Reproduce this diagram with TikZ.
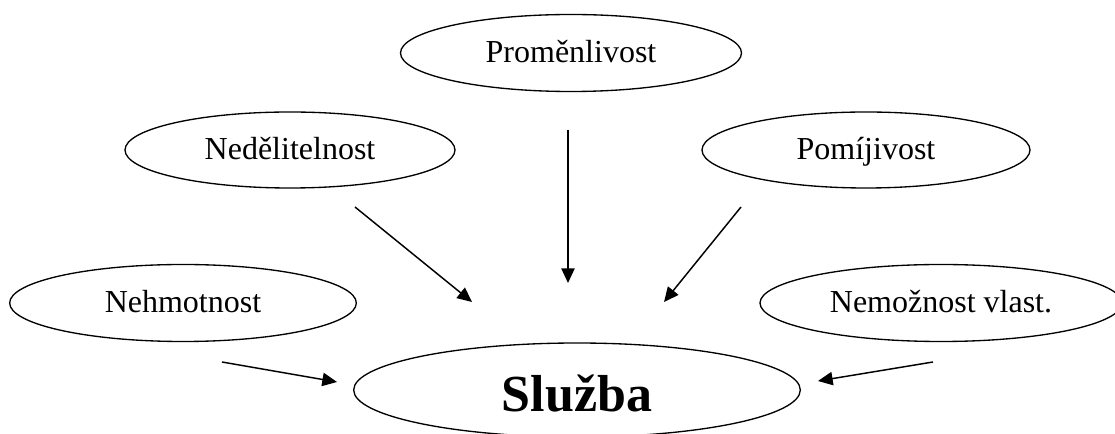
\documentclass[tikz,border=0pt]{standalone}
\usepackage{fontspec}
\setmainfont{Liberation Serif}
\usetikzlibrary{shapes.geometric,arrows.meta}
\tikzset{
  oval/.style={draw, ellipse, line width=1pt, inner sep=0pt, text height=18pt, text depth=3pt, font=\fontsize{24}{28}\selectfont},
  arr/.style={line width=1.1pt, -{Triangle[length=11pt,width=10pt]}}
}
\begin{document}
\begin{tikzpicture}[x=0.75pt,y=-0.75pt]
\clip (0,0) rectangle (1115,434);
\fill[white] (0,0) rectangle (1115,434);
\node[oval, minimum width=255.75pt, minimum height=57.75pt] (prom) at (571,53) {Proměnlivost};
\node[oval, minimum width=247.5pt, minimum height=57pt] (ned) at (290,150) {Nedělitelnost};
\node[oval, minimum width=246pt, minimum height=57pt] (pom) at (866,150) {Pomíjivost};
\node[oval, minimum width=260pt, minimum height=57.75pt] (neh) at (183,303) {Nehmotnost};
\node[oval, minimum width=271.5pt, minimum height=57.75pt] (nem) at (941,303) {Nemožnost vlast.};
\node[oval, minimum width=335pt, minimum height=70.5pt, text height=36pt, text depth=3pt, font=\fontsize{39}{44}\selectfont\bfseries] (sl) at (577,390) {Služba};
\coordinate (a1s) at (568,130); \coordinate (a1e) at (568,283);
\coordinate (a2s) at (355,207); \coordinate (a2e) at (472,302);
\coordinate (a3s) at (741,207); \coordinate (a3e) at (664,302);
\coordinate (a4s) at (222,362); \coordinate (a4e) at (337,382);
\coordinate (a5s) at (933,362); \coordinate (a5e) at (818,381);
\draw[arr] (a1s) -- (a1e);
\draw[arr] (a2s) -- (a2e);
\draw[arr] (a3s) -- (a3e);
\draw[arr] (a4s) -- (a4e);
\draw[arr] (a5s) -- (a5e);
\end{tikzpicture}
\end{document}
